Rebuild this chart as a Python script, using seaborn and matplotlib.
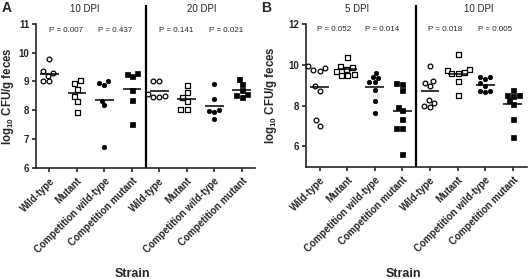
import numpy as np
import pandas as pd
import matplotlib
matplotlib.use("Agg")
import matplotlib.pyplot as plt
import matplotlib.transforms as mtransforms
import seaborn as sns

# ---------------- data ----------------
strain_labels = ["Wild-type", "Mutant", "Competition wild-type", "Competition mutant"]

a_titles = ["10 DPI", "20 DPI"]
a_pvals = ["P = 0.007", "P = 0.437", "P = 0.141", "P = 0.021"]
a_wt_10 = [9.76, 9.35, 9.30, 9.20, 9.00, 9.00]
a_mut_10 = [9.05, 8.95, 8.75, 8.50, 8.30, 7.95]
a_cwt_10 = [9.01, 8.88, 8.95, 8.33, 8.17, 6.71]
a_cmut_10 = [9.27, 9.18, 9.29, 8.71, 8.36, 7.50]
a_wt_20 = [9.02, 9.02, 8.50, 8.45, 8.55, 8.45]
a_mut_20 = [8.86, 8.63, 8.46, 8.31, 8.04, 8.05]
a_cwt_20 = [8.91, 8.39, 8.02, 7.98, 7.92, 7.69]
a_cmut_20 = [9.08, 8.91, 8.71, 8.57, 8.46, 8.52]

b_titles = ["5 DPI", "10 DPI"]
b_pvals = ["P = 0.052", "P = 0.014", "P = 0.018", "P = 0.005"]
b_wt_5 = [9.82, 9.67, 9.92, 9.74, 8.94, 8.73, 7.02, 7.27]
b_mut_5 = [10.40, 9.95, 9.90, 9.80, 9.70, 9.55, 9.50, 9.50]
b_cwt_5 = [9.59, 9.38, 9.17, 9.14, 9.33, 8.78, 8.20, 7.62]
b_cmut_5 = [9.10, 8.78, 9.06, 7.95, 7.76, 7.35, 6.91, 6.90, 5.64]
b_wt_10 = [9.95, 9.19, 8.94, 9.09, 8.29, 8.13, 7.92, 8.00]
b_mut_10 = [10.52, 9.78, 9.72, 9.65, 9.60, 9.58, 9.19, 8.52]
b_cwt_10 = [9.30, 9.41, 9.38, 9.09, 8.98, 8.73, 8.65, 8.70]
b_cmut_10 = [8.78, 8.45, 8.52, 8.54, 8.28, 8.08, 7.32, 6.45]

a_groups = [a_wt_10, a_mut_10, a_cwt_10, a_cmut_10, a_wt_20, a_mut_20, a_cwt_20, a_cmut_20]
b_groups = [b_wt_5, b_mut_5, b_cwt_5, b_cmut_5, b_wt_10, b_mut_10, b_cwt_10, b_cmut_10]


def make_df(groups):
    rows = []
    for gi, vals in enumerate(groups):
        for v in vals:
            rows.append({"key": f"g{gi}", "kind": gi % 4, "value": v})
    return pd.DataFrame(rows)


# ---------------- style ----------------
sns.set_style("ticks")
plt.rcParams["font.family"] = ["Liberation Sans", "DejaVu Sans"]
plt.rcParams["mathtext.fontset"] = "custom"
plt.rcParams["mathtext.rm"] = "Liberation Sans:bold"
plt.rcParams["mathtext.default"] = "rm"
plt.rcParams["axes.linewidth"] = 1.2
plt.rcParams["xtick.major.width"] = 1.2
plt.rcParams["ytick.major.width"] = 1.2
plt.rcParams["xtick.major.size"] = 3
plt.rcParams["ytick.major.size"] = 3

fig = plt.figure(figsize=(5.28, 2.79), dpi=100)
axA = fig.add_axes([0.0676, 0.399, 0.4163, 0.583])
axB = fig.add_axes([0.579, 0.4025, 0.4185, 0.5795])

marker_styles = [
    dict(marker="o", color="white", edgecolor="black", linewidth=0.9, size=3.4),
    dict(marker="s", color="white", edgecolor="black", linewidth=0.9, size=3.6),
    dict(marker="o", color="black", edgecolor="black", linewidth=0.5, size=3.2),
    dict(marker="s", color="black", edgecolor="black", linewidth=0.5, size=3.6),
]


def draw_panel(ax, groups, ylim, yticks, spine_top, titles, title_x, pvals, p_x,
               ylab_x, letter, letter_x, strain_x):
    df = make_df(groups)
    keys = [f"g{i}" for i in range(8)]
    for kind in range(4):
        sub = df[df["kind"] == kind]
        sns.swarmplot(data=sub, x="key", y="value", order=keys, ax=ax,
                      warn_thresh=1.0, **marker_styles[kind])
    means = df.groupby("key", sort=False)["value"].mean()
    for i, k in enumerate(keys):
        ax.hlines(means[k], i - 0.34, i + 0.34, color="black", lw=1.1, zorder=5)
    ax.axvline(3.5, ymin=0, ymax=1, color="black", lw=1.6)
    ax.set_xlim(-0.5, 7.5)
    ax.set_ylim(*ylim)
    ax.set_yticks(yticks)
    ax.set_yticklabels([str(t) for t in yticks], fontsize=7, fontweight="bold")
    ax.set_xticks(range(8))
    ax.set_xticklabels(strain_labels * 2, fontsize=7, fontweight="bold",
                       rotation=45, ha="right", rotation_mode="anchor")
    ax.tick_params(axis="x", pad=3)
    ax.tick_params(axis="y", pad=1.5)
    sns.despine(ax=ax)
    ax.spines["left"].set_bounds(ylim[0], spine_top)
    ax.set_xlabel("")
    ax.set_ylabel(r"log$_{10}$ CFU/g feces", fontsize=8.3, fontweight="bold")
    ax.yaxis.set_label_coords(ylab_x, 0.44)
    trans = mtransforms.blended_transform_factory(ax.transData, ax.transAxes)
    for t, x in zip(titles, title_x):
        ax.text(x, 0.978, t, transform=trans, ha="center", va="center", fontsize=7)
    for t, x in zip(pvals, p_x):
        ax.text(x, 0.846, t, transform=trans, ha="center", va="center", fontsize=5.8)
    fig.text(letter_x, 0.972, letter, fontsize=10, fontweight="bold", ha="left", va="center")
    fig.text(strain_x, 1 - 274 / 279, "Strain", fontsize=9, fontweight="bold",
             ha="center", va="center")


draw_panel(axA, a_groups, (6, 11.65), [6, 7, 8, 9, 10, 11], 11, a_titles, [1.3, 5.55],
           a_pvals, [0.62, 2.38, 4.63, 6.42], -0.088, "A", 0.004, 132.5 / 528)
draw_panel(axB, b_groups, (5, 12.93), [6, 8, 10, 12], 12, b_titles, [1.35, 5.75],
           b_pvals, [0.54, 2.28, 4.55, 6.35], -0.119, "B", 0.494, 403 / 528)

fig.savefig("out.png", dpi=100)
